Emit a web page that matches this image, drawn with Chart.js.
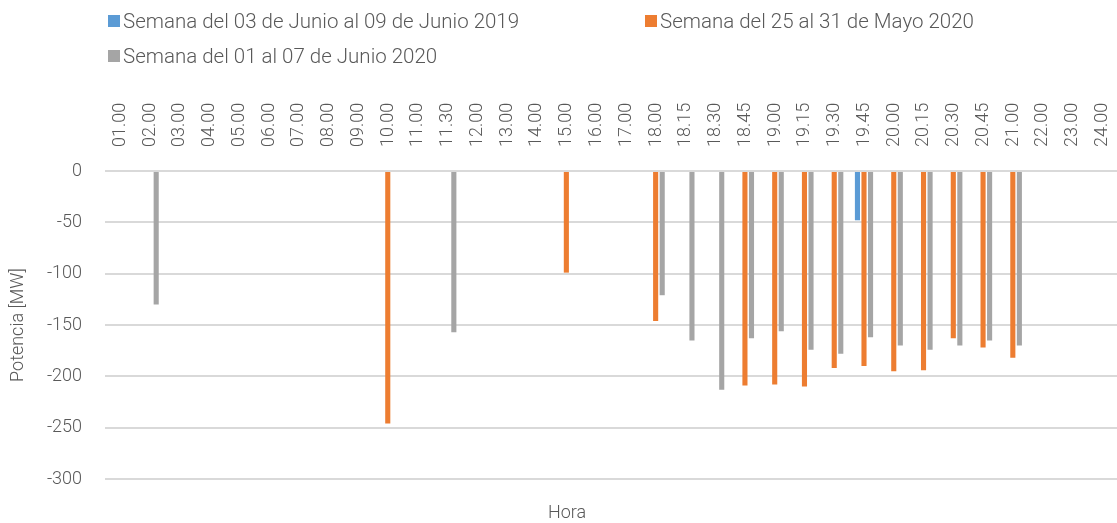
<!DOCTYPE html>
<html>
<head>
<meta charset="utf-8">
<script src="https://cdn.jsdelivr.net/npm/chart.js@4/dist/chart.umd.min.js"></script>
<style>
  body { margin: 0; background: #fff; }
  #wrap { position: relative; width: 1117px; height: 523px; font-family: 'Roboto', sans-serif; font-weight: 300; color: #595959; }
  #legend .item { position: absolute; display: flex; align-items: center; font-size: 20.5px; white-space: nowrap; }
  #legend .box { width: 12px; height: 12px; margin-right: 3px; }
  #xtitle { position: absolute; top: 501px; left: 567px; transform: translateX(-50%); font-size: 18px; }
</style>
</head>
<body>
<div id="wrap">
  <canvas id="chart" width="1117" height="523"></canvas>
  <div id="legend"></div>
  <div id="xtitle">Hora</div>
</div>
<script>
const horas = ['01.00', '02.00', '03.00', '04.00', '05.00', '06.00', '07.00', '08.00', '09.00', '10.00',
  '11.00', '11.30', '12.00', '13.00', '14.00', '15.00', '16.00', '17.00', '18.00', '18.15',
  '18.30', '18.45', '19.00', '19.15', '19.30', '19.45', '20.00', '20.15', '20.30', '20.45',
  '21.00', '22.00', '23.00', '24.00'];

// Semana del 03 al 09 de Junio 2019
const junio2019 = [null, null, null, null, null, null, null, null, null, null,
  null, null, null, null, null, null, null, null, null, null,
  null, null, null, null, null, -48, null, null, null, null,
  null, null, null, null];

// Semana del 25 al 31 de Mayo 2020
const mayo2020 = [null, null, null, null, null, null, null, null, null, -246,
  null, null, null, null, null, -99, null, null, -146, null,
  null, -209, -208, -210, -192, -190, -195, -194, -163, -172,
  -182, null, null, null];

// Semana del 01 al 07 de Junio 2020
const junio2020 = [null, -130, null, null, null, null, null, null, null, null,
  null, -157, null, null, null, null, null, null, -121, -165,
  -213, -163, -156, -174, -178, -162, -170, -174, -170, -165,
  -170, null, null, null];

const nombres = ['Semana del 03 de Junio al 09 de Junio 2019', 'Semana del 25 al 31 de Mayo 2020', 'Semana del 01 al 07 de Junio 2020'];
const colores = ['#5B9BD5', '#ED7D31', '#A5A5A5'];

const font = { family: 'Roboto', size: 18, weight: '300' };

const chart = new Chart(document.getElementById('chart'), {
  type: 'bar',
  data: {
    labels: horas,
    datasets: [
      { label: nombres[0], data: junio2019, backgroundColor: colores[0] },
      { label: nombres[1], data: mayo2020, backgroundColor: colores[1] },
      { label: nombres[2], data: junio2020, backgroundColor: colores[2] },
    ]
  },
  options: {
    responsive: false,
    animation: false,
    categoryPercentage: 0.66,
    barPercentage: 0.78,
    layout: { padding: 0 },
    plugins: {
      legend: { display: false },
      tooltip: { enabled: false }
    },
    scales: {
      x: {
        position: 'top',
        grid: { display: false },
        border: { display: false },
        ticks: { color: '#595959', font: font, minRotation: 90, maxRotation: 90, padding: 16, labelOffset: 22, autoSkip: false },
        afterFit: s => { s.height = 171; s.paddingLeft = 0; s.paddingRight = 0; }
      },
      x2: {
        type: 'category',
        labels: horas,
        position: 'bottom',
        grid: { display: false },
        border: { display: false },
        ticks: { display: false },
        afterFit: s => { s.height = 44; s.paddingLeft = 0; s.paddingRight = 0; }
      },
      y: {
        min: -300,
        max: 0,
        ticks: { stepSize: 50, color: '#595959', font: font, padding: 23 },
        grid: { color: '#D9D9D9', lineWidth: 2, drawTicks: false },
        border: { display: false },
        title: { display: true, text: 'Potencia [MW]', color: '#595959', font: font, padding: { top: 8, bottom: 0 } },
        afterFit: s => { s.width = 105; }
      }
    }
  }
});

// leyenda en dos columnas como en el original
const legend = document.getElementById('legend');
const pos = [[108, 9], [645, 9], [108, 44]];
chart.data.datasets.forEach((ds, i) => {
  const item = document.createElement('div');
  item.className = 'item';
  item.style.left = pos[i][0] + 'px';
  item.style.top = pos[i][1] + 'px';
  item.innerHTML = '<span class="box" style="background:' + ds.backgroundColor + '"></span>' + ds.label;
  legend.appendChild(item);
});
</script>
</body>
</html>
